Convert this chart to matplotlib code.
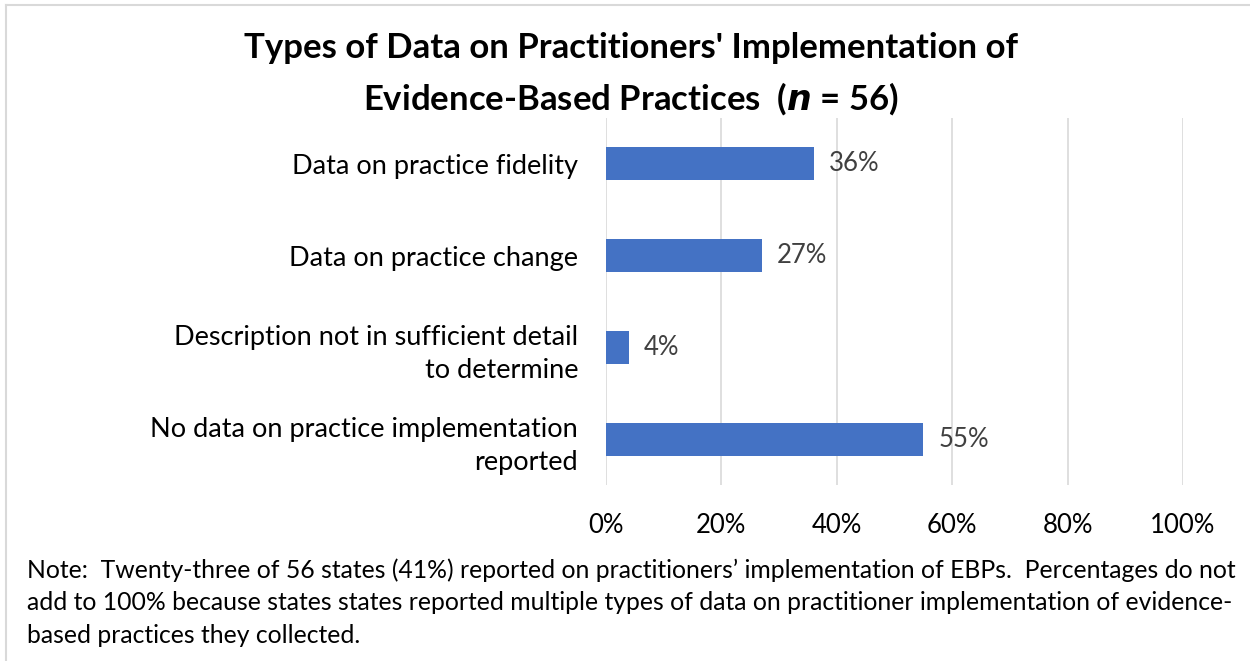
import matplotlib.pyplot as plt
from matplotlib.lines import Line2D

categories = [
    "Data on practice fidelity",
    "Data on practice change",
    "Description not in sufficient detail\nto determine",
    "No data on practice implementation\nreported",
]
shares = [36, 27, 4, 55]
ticks = [0, 20, 40, 60, 80, 100]

note = ("Note:  Twenty-three of 56 states (41%) reported on practitioners\u2019 implementation of EBPs.  Percentages do not\n"
        "add to 100% because states states reported multiple types of data on practitioner implementation of evidence-\n"
        "based practices they collected.")

plt.rcParams['font.family'] = ['Lato', 'DejaVu Sans']

fig = plt.figure(figsize=(12.5, 6.61), dpi=100)
ax = fig.add_axes([606 / 1250, 1 - 485 / 661, 577 / 1250, 367 / 661])

ypos = list(range(len(categories)))
ax.barh(ypos, shares, height=0.36, color="#4472C4", zorder=3)
for y, v in zip(ypos, shares):
    ax.text(v + 2.6, y, f"{v}%", va="center", ha="left", fontsize=18.5, color="#404040")

ax.set_xlim(0, 100)
ax.set_ylim(len(categories) - 0.5, -0.5)
ax.set_xticks(ticks)
ax.set_xticklabels([f"{t}%" for t in ticks], fontsize=18.5)
ax.set_yticks(ypos)
ax.set_yticklabels(categories, fontsize=19.5, ha="right", multialignment="right", linespacing=1.42)
ax.tick_params(axis="both", length=0)
ax.tick_params(axis="x", pad=20)
ax.tick_params(axis="y", pad=20)
ax.grid(axis="x", color="#D9D9D9", linewidth=1.2, zorder=0)
for s in ax.spines.values():
    s.set_visible(False)

fig.text(0.5045, 1 - 48 / 661, "Types of Data on Practitioners' Implementation of",
         ha="center", va="center", fontsize=25, fontweight="bold")
fig.text(0.5045, 1 - 99 / 661, r"Evidence-Based Practices  ($\bfit{n}$ = 56)",
         ha="center", va="center", fontsize=25, fontweight="bold")

fig.text(27 / 1250, 1 - 558 / 661, note, ha="left", va="top", fontsize=17.85, linespacing=1.5)

# thin frame along the top and left edges
fig.add_artist(Line2D([6 / 1250, 6 / 1250], [0, 1 - 5 / 661], transform=fig.transFigure,
                      color="#D9D9D9", linewidth=1.5))
fig.add_artist(Line2D([6 / 1250, 1], [1 - 5 / 661, 1 - 5 / 661], transform=fig.transFigure,
                      color="#D9D9D9", linewidth=1.5))

fig.savefig("out.png", dpi=100)
